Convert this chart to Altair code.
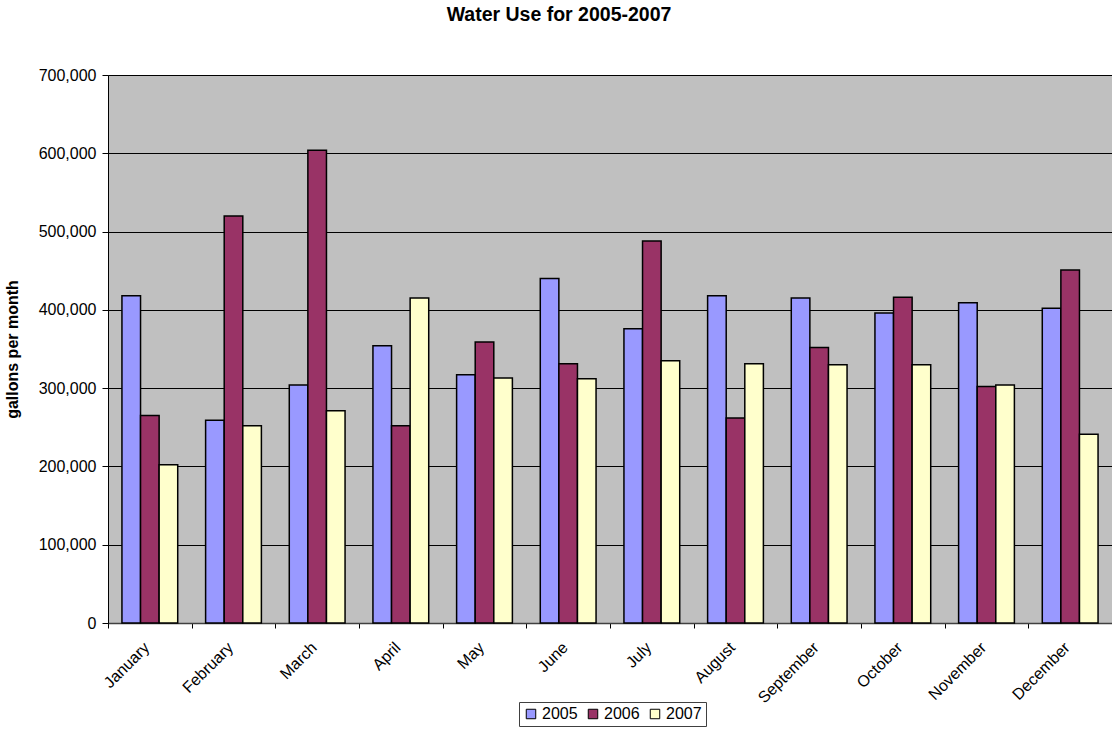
import altair as alt
import pandas as pd

months = ["January", "February", "March", "April", "May", "June", "July",
          "August", "September", "October", "November", "December"]
years = ["2005", "2006", "2007"]
use_2005 = [418000, 259000, 304000, 354000, 317000, 440000, 376000, 418000, 415000, 396000, 409000, 402000]
use_2006 = [265000, 520000, 604000, 252000, 359000, 331000, 488000, 262000, 352000, 416000, 302000, 451000]
use_2007 = [202000, 252000, 271000, 415000, 313000, 312000, 335000, 331000, 330000, 330000, 304000, 241000]
colors = ["#9999FF", "#993366", "#FFFFCC"]

rows = []
for yr, vals in zip(years, [use_2005, use_2006, use_2007]):
    for m, v in zip(months, vals):
        rows.append({"month": m, "year": yr, "gallons": v})
df = pd.DataFrame(rows)

FONT = "Liberation Sans"

chart = alt.Chart(df).mark_bar(stroke="black", strokeWidth=1.5).encode(
    x=alt.X("month:N", sort=months, title=None,
            scale=alt.Scale(paddingInner=0, paddingOuter=0),
            axis=alt.Axis(labelAngle=-45, labelAlign="right", labelBaseline="top",
                          labelFontSize=16, labelFont=FONT, labelColor="black",
                          labelOffset=-9, labelPadding=11,
                          tickBand="extent", tickColor="black", tickSize=5,
                          domainColor="#404040", domainWidth=1.5)),
    xOffset=alt.XOffset("year:N", sort=years,
                        scale=alt.Scale(paddingInner=0, paddingOuter=0.75)),
    y=alt.Y("gallons:Q", title="gallons per month",
            scale=alt.Scale(domain=[0, 700000], nice=False),
            axis=alt.Axis(values=list(range(0, 700001, 100000)), format=",.0f",
                          labelFontSize=16, labelFont=FONT, labelColor="black",
                          titleFontSize=16, titleFont=FONT, titleFontWeight="bold",
                          titleColor="black", titleX=-96, titleY=274,
                          titleBaseline="middle", titleAngle=-90,
                          grid=True, gridColor="black", gridWidth=1,
                          domainColor="black", tickColor="black", tickSize=6,
                          labelPadding=6)),
    color=alt.Color("year:N", sort=years,
                    scale=alt.Scale(domain=years, range=colors),
                    legend=alt.Legend(title=None, orient="none", direction="horizontal",
                                      legendX=411, legendY=627,
                                      symbolType="square", symbolSize=90,
                                      symbolStrokeColor="black", symbolStrokeWidth=1,
                                      labelFontSize=16, labelFont=FONT, labelColor="black",
                                      strokeColor="#404040", fillColor="white",
                                      padding=4, columnPadding=7, labelOffset=3)),
).properties(
    width=1004,
    height=548,
    title=alt.TitleParams("Water Use for 2005-2007", anchor="middle", frame="group",
                          dx=-51, offset=42,
                          fontSize=19.5, font=FONT,
                          fontWeight="bold", color="black"),
    autosize=alt.AutoSizeParams(type="none"),
    padding={"left": 108, "top": 75, "right": 0, "bottom": 106},
).configure_view(
    fill="#C0C0C0", stroke="#808080", strokeWidth=1
)

chart.save("out.html", embed_options={"renderer": "svg", "actions": False})
